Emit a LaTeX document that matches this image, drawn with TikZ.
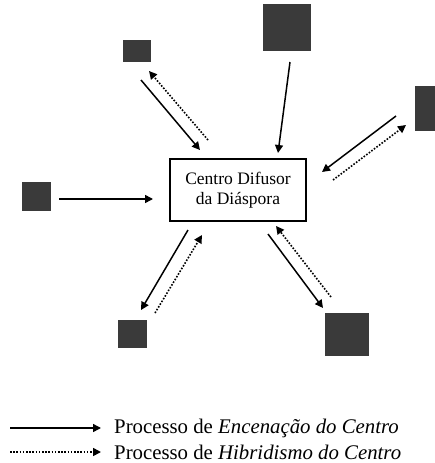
\documentclass[tikz,border=0pt]{standalone}
\usepackage{fontspec}
\setmainfont{Liberation Serif}
\usetikzlibrary{arrows.meta}
\definecolor{sqgray}{HTML}{3A3A3A}
\tikzset{
	node_sq/.style = {
		rectangle,
		inner sep=0pt,
		draw=none,
		fill=sqgray
	},
	node_centre/.style = {
		rectangle,
		draw=black,
		line width=1.8pt,
		minimum width=136pt,
		minimum height=62pt,
		align=center,
		font=\fontsize{17.5}{20}\selectfont
	},
	arrow_enc/.style = {
		line width=1.5pt,
		-{Triangle[length=8pt,width=8pt]}
	},
	arrow_hib/.style = {
		line width=1.6pt,
		dash pattern=on 1.6pt off 1.6pt,
		-{Triangle[length=8pt,width=8pt]}
	},
	legend/.style = {
		anchor=west,
		inner sep=0pt,
		font=\fontsize{20.8}{22}\selectfont
	}
}

\begin{document}
\begin{tikzpicture}[x=1pt,y=-1pt]
\useasboundingbox (0,0) rectangle (435,463);
% centre and the squares round it
\node [node_centre] (centre) at (238,190) {Centro Difusor\\da Diáspora};
\node [node_sq, minimum width=28pt, minimum height=22pt] (sq_tl) at (137,51) {};
\node [node_sq, minimum width=48pt, minimum height=47pt] (sq_t) at (287,27.5) {};
\node [node_sq, minimum width=20pt, minimum height=45pt] (sq_r) at (425,108.5) {};
\node [node_sq, minimum width=29pt, minimum height=29pt] (sq_l) at (36.5,196.5) {};
\node [node_sq, minimum width=29pt, minimum height=28pt] (sq_bl) at (132.5,334) {};
\node [node_sq, minimum width=44pt, minimum height=43pt] (sq_br) at (347,334.5) {};
% end points of the connectors
\coordinate (tl_a) at (141,80);  \coordinate (tl_b) at (200,150);
\coordinate (tl_c) at (208,140); \coordinate (tl_d) at (149,71);
\coordinate (t_a) at (290,62);   \coordinate (t_b) at (278,153);
\coordinate (r_a) at (396,116);  \coordinate (r_b) at (322,172);
\coordinate (r_c) at (333,180);  \coordinate (r_d) at (406,125);
\coordinate (l_a) at (59,199);   \coordinate (l_b) at (153,199);
\coordinate (bl_a) at (188,230); \coordinate (bl_b) at (141,310);
\coordinate (bl_c) at (155,313); \coordinate (bl_d) at (202,235);
\coordinate (br_a) at (268,234); \coordinate (br_b) at (323,308);
\coordinate (br_c) at (331,297); \coordinate (br_d) at (276,226);
\draw [arrow_enc] (tl_a) -- (tl_b);
\draw [arrow_hib] (tl_c) -- (tl_d);
\draw [arrow_enc] (t_a) -- (t_b);
\draw [arrow_enc] (r_a) -- (r_b);
\draw [arrow_hib] (r_c) -- (r_d);
\draw [arrow_enc] (l_a) -- (l_b);
\draw [arrow_enc] (bl_a) -- (bl_b);
\draw [arrow_hib] (bl_c) -- (bl_d);
\draw [arrow_enc] (br_a) -- (br_b);
\draw [arrow_hib] (br_c) -- (br_d);
% legend
\node [legend] (leg_enc) at (114,428) {Processo de \textit{Encenação do Centro}};
\node [legend] (leg_hib) at (114,452) {Processo de \textit{Hibridismo do Centro}};
\coordinate (leg_enc_a) at (10,428);
\coordinate (leg_hib_a) at (10,452);
\draw [arrow_enc] (leg_enc_a) -- ([xshift=-13pt]leg_enc.west);
\draw [arrow_hib] (leg_hib_a) -- ([xshift=-13pt]leg_hib.west);
\end{tikzpicture}
\end{document}
